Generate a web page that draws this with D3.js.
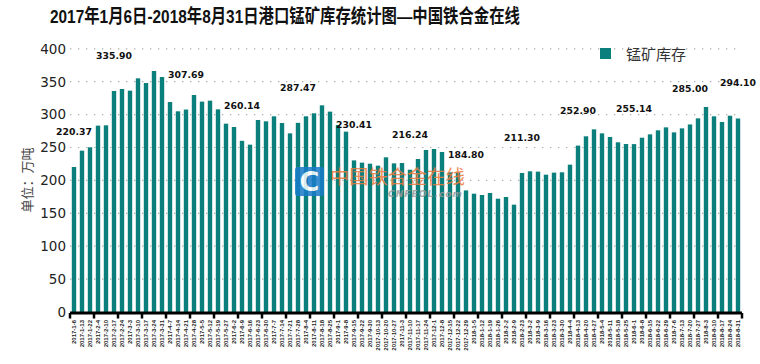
<!DOCTYPE html>
<html><head><meta charset="utf-8">
<script src="https://cdn.jsdelivr.net/npm/d3@7"></script>
<style>body{margin:0;background:#fff}svg{display:block}</style>
</head><body>
<svg id="c" width="760" height="364"></svg>
<script>
const title = "2017年1月6日-2018年8月31日港口锰矿库存统计图—中国铁合金在线";
const seriesName = "锰矿库存";
const yAxisTitle = "单位：万吨";
const categories = [
"2017-1-6","2017-1-13","2017-1-22","2017-2-4","2017-2-10","2017-2-17","2017-2-24","2017-3-3","2017-3-10","2017-3-17",
"2017-3-24","2017-3-31","2017-4-7","2017-4-14","2017-4-21","2017-4-28","2017-5-5","2017-5-12","2017-5-19","2017-5-27",
"2017-6-2","2017-6-9","2017-6-16","2017-6-23","2017-6-30","2017-7-7","2017-7-14","2017-7-21","2017-7-28","2017-8-4",
"2017-8-11","2017-8-18","2017-8-25","2017-9-1","2017-9-8","2017-9-15","2017-9-22","2017-9-30","2017-10-13","2017-10-20",
"2017-10-27","2017-11-3","2017-11-10","2017-11-17","2017-11-24","2017-12-1","2017-12-8","2017-12-15","2017-12-22","2017-12-29",
"2018-1-5","2018-1-12","2018-1-19","2018-1-26","2018-2-2","2018-2-9","2018-2-23","2018-3-2","2018-3-9","2018-3-16",
"2018-3-23","2018-3-30","2018-4-4","2018-4-13","2018-4-20","2018-4-27","2018-5-4","2018-5-11","2018-5-18","2018-5-25",
"2018-6-1","2018-6-8","2018-6-15","2018-6-22","2018-6-29","2018-7-6","2018-7-13","2018-7-20","2018-7-27","2018-8-3",
"2018-8-10","2018-8-17","2018-8-24","2018-8-31"];
const values = [
220.37,245.2,250.3,283.2,283.7,335.90,338.9,336.4,355.1,348.0,
366.3,357.1,319.1,305.0,307.69,329.8,319.7,321.2,308.0,286.2,
281.2,260.14,254.3,291.8,289.8,297.4,287.2,271.5,287.47,297.4,
302.0,314.1,304.5,284.2,274.1,230.41,227.0,225.4,222.4,235.1,
225.9,226.4,216.24,232.5,246.2,247.7,243.2,212.3,212.3,184.80,
179.8,177.8,180.9,172.2,174.8,163.1,211.30,213.8,213.3,208.7,
211.8,212.3,223.9,252.90,267.0,277.6,271.5,266.0,257.9,255.3,
255.14,264.9,270.0,276.1,280.6,273.0,279.1,285.00,294.3,311.6,
297.4,288.8,298.3,294.10];
const annotated = ["2017-1-6","2017-2-17","2017-4-21","2017-6-9","2017-7-28","2017-9-15","2017-11-10",
"2017-12-29","2018-2-23","2018-4-13","2018-6-1","2018-7-20","2018-8-31"];
const yTicks = [0,50,100,150,200,250,300,350,400];

const teal = "#0b7f7b";
const svg = d3.select("#c");
const x = d3.scaleBand().domain(categories).range([70,742]).paddingInner(0.45).paddingOuter(0.225);
const y = d3.scaleLinear().domain([0,400]).range([312,48.8]);

// title
svg.append("text").attr("x",50).attr("y",23).attr("textLength",470).attr("lengthAdjust","spacingAndGlyphs")
  .style("font-family","'Liberation Sans','Noto Sans CJK SC',sans-serif").style("font-weight","bold")
  .style("font-size","19px").attr("fill","#111").text(title);

// gridlines
svg.append("g").selectAll("line").data(yTicks.filter(d=>d>0)).join("line")
  .attr("x1",70).attr("x2",742).attr("y1",d=>y(d)).attr("y2",d=>y(d))
  .attr("stroke","#aaa").attr("stroke-width",1.2).attr("stroke-dasharray","1.3,6.7");

// y axis
const ya = svg.append("g").attr("transform","translate(68,0)")
  .call(d3.axisLeft(y).tickValues(yTicks).tickSize(0).tickPadding(2));
ya.select(".domain").remove();
ya.selectAll("text").style("font-family","'DejaVu Sans',sans-serif").style("font-size","13.5px").attr("fill","#222");

svg.append("text").attr("transform","translate(32,180) rotate(-90)").attr("text-anchor","middle")
  .style("font-family","'Noto Sans CJK SC',sans-serif").style("font-size","13px").attr("fill","#444").text(yAxisTitle);

// bars
svg.append("g").selectAll("rect").data(categories).join("rect")
  .attr("x",d=>x(d)).attr("width",x.bandwidth())
  .attr("y",(d,i)=>y(values[i])).attr("height",(d,i)=>y(0)-y(values[i]))
  .attr("fill",teal);

// x axis
const xa = svg.append("g").attr("transform","translate(0,313)")
  .call(d3.axisBottom(x).tickSize(0).tickPadding(0));
xa.select(".domain").remove();
xa.selectAll("text").attr("transform","rotate(-90)").attr("text-anchor","end")
  .attr("x",-7).attr("y",0).attr("dy","0.35em")
  .style("font-family","'Liberation Sans',sans-serif").style("font-weight","bold").style("font-size","6px").attr("fill","#222");
svg.append("line").attr("x1",x.range()[0]).attr("x2",x.range()[1]).attr("y1",313).attr("y2",313)
  .attr("stroke","#000").attr("stroke-width",3);
const tickPos = d3.range(0,categories.length+1,3).map(i=>x.range()[0]+i*x.step());
svg.append("g").selectAll("line").data(tickPos).join("line")
  .attr("x1",d=>d).attr("x2",d=>d).attr("y1",313).attr("y2",318.5)
  .attr("stroke","#000").attr("stroke-width",2.5);

// data labels
svg.append("g").selectAll("text").data(annotated).join("text")
  .attr("x",d=>x(d)+x.bandwidth()/2).attr("y",d=>y(values[categories.indexOf(d)])-32)
  .attr("text-anchor","middle").style("font-family","'DejaVu Sans',sans-serif").style("font-weight","bold")
  .style("font-size","9.3px").attr("fill","#111").text(d=>values[categories.indexOf(d)].toFixed(2));

// legend
svg.append("rect").attr("x",600).attr("y",48).attr("width",11).attr("height",11).attr("fill",teal);
svg.append("text").attr("x",626).attr("y",60).style("font-family","'Noto Sans CJK SC',sans-serif")
  .style("font-size","15px").attr("fill","#333").text(seriesName);

// watermark
const wm = svg.append("g").attr("opacity",0.85);
wm.append("rect").attr("x",295).attr("y",167).attr("width",29).attr("height",29).attr("rx",3).attr("fill","#1a7cc9");
wm.append("text").attr("x",309.5).attr("y",191).attr("text-anchor","middle").style("font-family","'DejaVu Sans',sans-serif")
  .style("font-weight","bold").style("font-size","27px").attr("fill","#fff").text("C");
wm.append("text").attr("x",330).attr("y",184).attr("textLength",135).attr("lengthAdjust","spacingAndGlyphs")
  .style("font-family","'Noto Sans CJK SC',sans-serif").style("font-size","19px").attr("fill","#f07a3c").text("中国铁合金在线");
wm.append("text").attr("x",388).attr("y",197).attr("textLength",74).style("font-family","'DejaVu Sans',sans-serif")
  .style("font-style","italic").style("font-weight","bold").style("font-size","9px").attr("fill","#9a9a9a").text("CNFEOL.com");
</script>
</body></html>
